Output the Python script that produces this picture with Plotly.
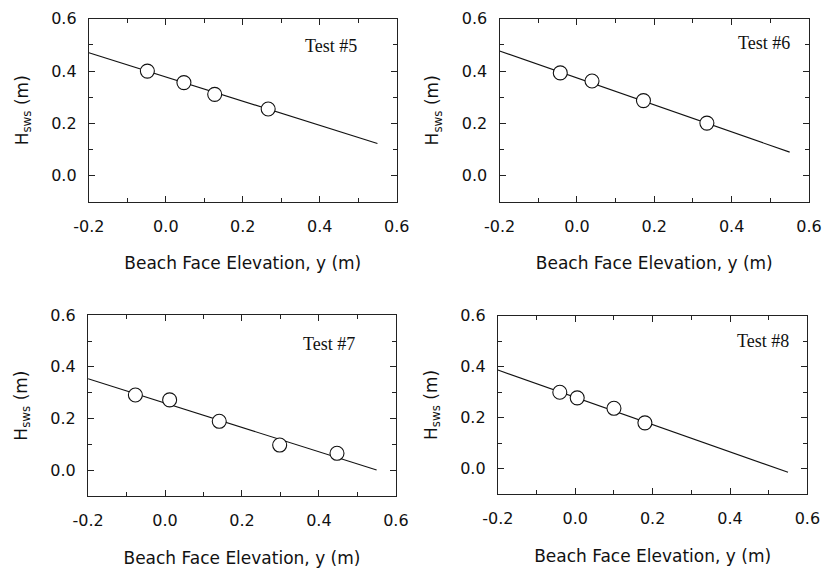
import plotly.graph_objects as go

# ---- data ----
test_labels = ["Test #5", "Test #6", "Test #7", "Test #8"]

t5_x = [-0.048, 0.047, 0.127, 0.266]
t5_y = [0.400, 0.356, 0.311, 0.255]
t6_x = [-0.043, 0.039, 0.172, 0.336]
t6_y = [0.393, 0.362, 0.287, 0.201]
t7_x = [-0.077, 0.012, 0.141, 0.298, 0.447]
t7_y = [0.291, 0.272, 0.189, 0.097, 0.065]
t8_x = [-0.040, 0.005, 0.100, 0.180]
t8_y = [0.300, 0.278, 0.237, 0.180]

fit_x = [-0.2, 0.55]
t5_fit = [0.470, 0.123]
t6_fit = [0.477, 0.090]
t7_fit = [0.354, 0.000]
t8_fit = [0.387, -0.014]

x_ticks = [-0.2, 0.0, 0.2, 0.4, 0.6]
x_tick_text = ["-0.2", "0.0", "0.2", "0.4", "0.6"]
y_ticks = [0.0, 0.2, 0.4, 0.6]
y_tick_text = ["0.0", "0.2", "0.4", "0.6"]

points = [(t5_x, t5_y), (t6_x, t6_y), (t7_x, t7_y), (t8_x, t8_y)]
fits = [t5_fit, t6_fit, t7_fit, t8_fit]

# ---- layout ----
W, H = 823, 570
x_domains = [[0.108, 0.482], [0.607, 0.983], [0.107, 0.481], [0.605, 0.981]]
y_domains = [[0.646, 0.967], [0.646, 0.967], [0.130, 0.447], [0.133, 0.446]]
label_pos = [(0.786, 0.85), (0.856, 0.87), (0.784, 0.84), (0.858, 0.86)]

SANS = "DejaVu Sans"
fig = go.Figure()
layout = dict(
    width=W, height=H,
    margin=dict(l=0, r=0, t=0, b=0),
    paper_bgcolor="white", plot_bgcolor="white",
    showlegend=False,
    font=dict(family=SANS, size=16, color="#111"),
    annotations=[],
)

for i in range(4):
    n = "" if i == 0 else str(i + 1)
    xa, ya = "x" + n, "y" + n
    px, py = points[i]
    fig.add_trace(go.Scatter(x=fit_x, y=fits[i], mode="lines",
                             line=dict(color="#111", width=1.1),
                             xaxis=xa, yaxis=ya, hoverinfo="skip"))
    fig.add_trace(go.Scatter(x=px, y=py, mode="markers",
                             marker=dict(symbol="circle", size=14, color="white",
                                         line=dict(color="#111", width=1.1)),
                             xaxis=xa, yaxis=ya))
    common = dict(showline=True, linecolor="#222", linewidth=1.2, mirror="ticks",
                  ticks="inside", ticklen=6, tickwidth=1, tickcolor="#222",
                  showgrid=False, zeroline=False, automargin=False,
                  tickfont=dict(family=SANS, size=16, color="#111"))
    layout["xaxis" + n] = dict(
        common, domain=x_domains[i], anchor=ya, range=[-0.2, 0.6],
        tickmode="array", tickvals=x_ticks, ticktext=x_tick_text,
        ticklabelstandoff=10,
        minor=dict(dtick=0.1, tick0=0, ticks="inside", ticklen=4, tickcolor="#222"),
        title=dict(text="Beach Face Elevation, y (m)", standoff=22,
                   font=dict(family=SANS, size=17, color="#111")))
    layout["yaxis" + n] = dict(
        common, domain=y_domains[i], anchor=xa, range=[-0.1, 0.6],
        tickmode="array", tickvals=y_ticks, ticktext=y_tick_text,
        ticklabelstandoff=8,
        minor=dict(dtick=0.1, tick0=0, ticks="inside", ticklen=4, tickcolor="#222"),
        title=dict(text="H<sub>sws</sub> (m)", standoff=18,
                   font=dict(family=SANS, size=17, color="#111")))
    layout["annotations"].append(dict(
        text=test_labels[i], xref=xa + " domain", yref=ya + " domain",
        x=label_pos[i][0], y=label_pos[i][1], showarrow=False,
        xanchor="center", yanchor="middle",
        font=dict(family="Liberation Serif", size=18, color="#111")))

fig.update_layout(**layout)
fig.write_html(
    "out.html",
    config={"displayModeBar": False},
    post_script="document.body.style.margin='0';document.body.style.overflow='hidden';",
)
